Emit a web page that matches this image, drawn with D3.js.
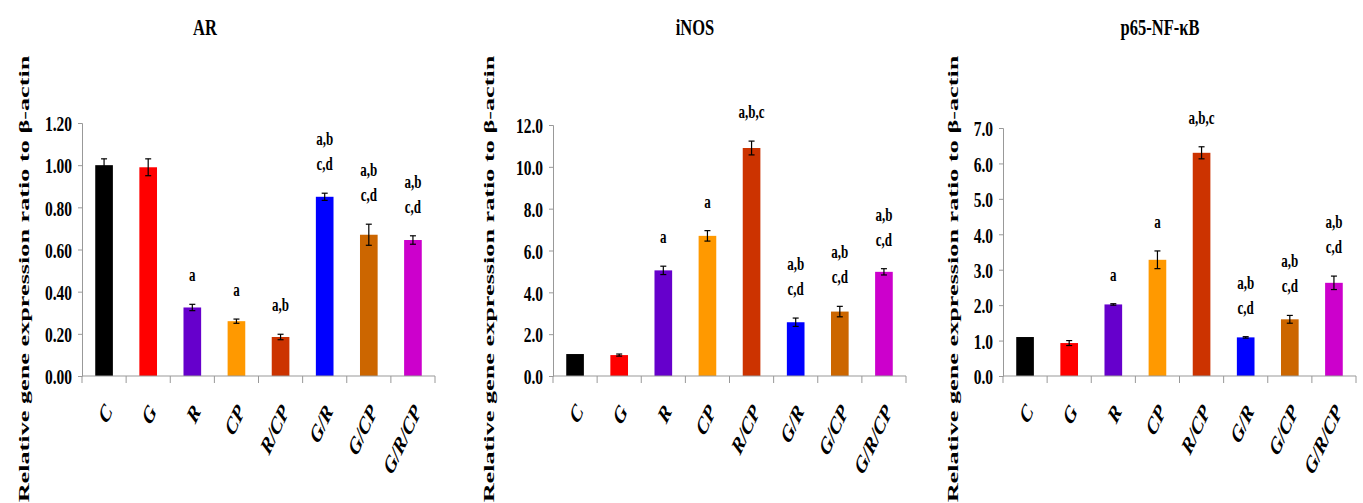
<!DOCTYPE html>
<html><head><meta charset="utf-8">
<script src="https://cdn.jsdelivr.net/npm/d3@7"></script>
<style>
html,body{margin:0;padding:0;background:#fff;}
svg{display:block;}
text{font-family:"Liberation Serif","Times New Roman",serif;font-weight:bold;fill:#000;}
</style></head>
<body>
<svg id="chart" width="1363" height="503"></svg>
<script>
const categories = ["C","G","R","CP","R/CP","G/R","G/CP","G/R/CP"];
const barColors = ["#000000","#ff0000","#6600cc","#ff9900","#cc3300","#0000ff","#cc6600","#cc00cc"];

const arMeans  = [1.00, 0.99, 0.325, 0.26, 0.185, 0.85, 0.67, 0.645];
const arErrors = [0.03, 0.04, 0.015, 0.01, 0.013, 0.017, 0.05, 0.02];
const arLabels = [[],[],["a"],["a"],["a,b"],["a,b","c,d"],["a,b","c,d"],["a,b","c,d"]];
const arTicks  = [0, 0.2, 0.4, 0.6, 0.8, 1.0, 1.2];

const inosMeans  = [1.05, 1.00, 5.05, 6.70, 10.90, 2.57, 3.08, 4.98];
const inosErrors = [0, 0.05, 0.20, 0.25, 0.33, 0.20, 0.25, 0.15];
const inosLabels = [[],[],["a"],["a"],["a,b,c"],["a,b","c,d"],["a,b","c,d"],["a,b","c,d"]];
const inosTicks  = [0, 2, 4, 6, 8, 10, 12];

const p65Means  = [1.10, 0.93, 2.02, 3.28, 6.30, 1.09, 1.60, 2.63];
const p65Errors = [0, 0.07, 0.02, 0.25, 0.17, 0.02, 0.11, 0.19];
const p65Labels = [[],[],["a"],["a"],["a,b,c"],["a,b","c,d"],["a,b","c,d"],["a,b","c,d"]];
const p65Ticks  = [0, 1, 2, 3, 4, 5, 6, 7];

const titles = ["AR","iNOS","p65-NF-\u03BAB"];
const yTitle = "Relative gene expression ratio to \u03B2-actin";

const panels = [
  {title:titles[0], means:arMeans, errors:arErrors, labels:arLabels, ticks:arTicks, fmt:".2f",
   x0:82, x1:435, yTop:123, titleX:205, yTitleX:24},
  {title:titles[1], means:inosMeans, errors:inosErrors, labels:inosLabels, ticks:inosTicks, fmt:".1f",
   x0:553, x1:906, yTop:125, titleX:695, yTitleX:489},
  {title:titles[2], means:p65Means, errors:p65Errors, labels:p65Labels, ticks:p65Ticks, fmt:".1f",
   x0:1003, x1:1356, yTop:128, titleX:1160, yTitleX:953}
];

const svg = d3.select("#chart");
const yBase = 376;
const K = 1.4; // vertical stretch of text

panels.forEach(p => {
  const g = svg.append("g");
  const x = d3.scaleBand().domain(categories).range([p.x0, p.x1]).paddingInner(0.6).paddingOuter(0.3);
  const y = d3.scaleLinear().domain([0, p.ticks[p.ticks.length-1]]).range([yBase, p.yTop]);

  // bars
  g.selectAll("rect.bar").data(categories).enter().append("rect")
    .attr("x", d => x(d)).attr("width", x.bandwidth())
    .attr("y", (d,i) => y(p.means[i]))
    .attr("height", (d,i) => yBase - y(p.means[i]))
    .attr("fill", (d,i) => barColors[i]);

  // error bars
  categories.forEach((c,i) => {
    const e = p.errors[i];
    if (!e) return;
    const cx = x(c) + x.bandwidth()/2;
    const yt = y(p.means[i] + e), yb = y(p.means[i] - e);
    g.append("line").attr("x1",cx).attr("x2",cx).attr("y1",yt).attr("y2",yb).attr("stroke","#000").attr("stroke-width",1.2);
    g.append("line").attr("x1",cx-3).attr("x2",cx+3).attr("y1",yt).attr("y2",yt).attr("stroke","#000").attr("stroke-width",1.2);
    g.append("line").attr("x1",cx-3).attr("x2",cx+3).attr("y1",yb).attr("y2",yb).attr("stroke","#000").attr("stroke-width",1.2);
  });

  // significance labels
  categories.forEach((c,i) => {
    const lab = p.labels[i];
    if (!lab.length) return;
    const cx = x(c) + x.bandwidth()/2;
    const top = y(p.means[i] + p.errors[i]);
    lab.forEach((t,j) => {
      const by = top - 23 - (lab.length-1-j)*25;
      g.append("text").attr("transform",`translate(${cx},${by}) scale(1,${K})`)
        .attr("text-anchor","middle").style("font-size","13px").text(t);
    });
  });

  // y axis
  const yAxis = d3.axisLeft(y).tickValues(p.ticks).tickFormat(d3.format(p.fmt)).tickSize(4).tickPadding(6);
  const ya = g.append("g").attr("transform",`translate(${p.x0},0)`).call(yAxis);
  ya.selectAll("path,line").attr("stroke","#999");
  ya.selectAll(".tick text").attr("dy", null).attr("y", 0)
    .attr("transform", `translate(0,${0.36*15.5*K}) scale(1,${K})`)
    .style("font-size","15.5px").style("font-family",'"Liberation Serif",serif').style("font-weight","bold");

  // x axis
  const xa = g.append("g").attr("transform",`translate(0,${yBase})`);
  xa.append("line").attr("x1",p.x0).attr("x2",p.x1).attr("y1",0).attr("y2",0).attr("stroke","#999");
  const step = (p.x1 - p.x0)/categories.length;
  d3.range(categories.length+1).forEach(k => {
    xa.append("line").attr("x1",p.x0+k*step).attr("x2",p.x0+k*step).attr("y1",0).attr("y2",7).attr("stroke","#999");
  });
  categories.forEach(c => {
    const cx = x(c) + x.bandwidth()/2;
    xa.append("text")
      .attr("transform",`translate(${cx+4},${31}) scale(1,${K}) rotate(-57)`)
      .attr("text-anchor","end").attr("dy","0.35em")
      .style("font-size","17px").style("font-style","italic").text(c);
  });

  // title
  g.append("text").attr("transform",`translate(${p.titleX},35) scale(1,1.45)`)
    .attr("text-anchor","middle").style("font-size","16.5px").text(p.title);

  // y title
  g.append("text").attr("transform",`translate(${p.yTitleX+5},279) scale(1,1.75) rotate(-90)`)
    .attr("text-anchor","middle").style("font-size","15px").text(yTitle);
});
</script>
</body></html>
